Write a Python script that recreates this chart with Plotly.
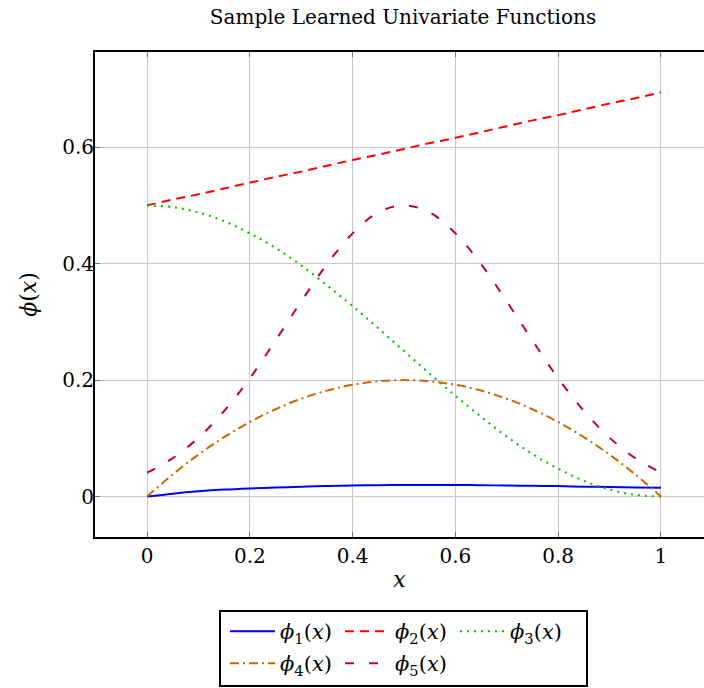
import plotly.graph_objects as go

x_vals = [0.00, 0.05, 0.10, 0.15, 0.20, 0.25, 0.30, 0.35, 0.40, 0.45, 0.50,
          0.55, 0.60, 0.65, 0.70, 0.75, 0.80, 0.85, 0.90, 0.95, 1.00]

phi1 = [0.000, 0.005, 0.009, 0.012, 0.014, 0.0155, 0.017, 0.018, 0.019, 0.0195, 0.020,
        0.020, 0.020, 0.0195, 0.019, 0.0185, 0.018, 0.017, 0.0165, 0.0155, 0.015]
phi2 = [0.500, 0.510, 0.519, 0.529, 0.539, 0.549, 0.558, 0.568, 0.578, 0.587, 0.597,
        0.607, 0.616, 0.626, 0.636, 0.646, 0.655, 0.665, 0.675, 0.684, 0.694]
phi3 = [0.500, 0.497, 0.488, 0.473, 0.452, 0.427, 0.397, 0.363, 0.327, 0.289, 0.250,
        0.211, 0.173, 0.137, 0.103, 0.073, 0.048, 0.027, 0.012, 0.003, 0.000]
phi4 = [0.000, 0.038, 0.072, 0.102, 0.128, 0.150, 0.168, 0.182, 0.192, 0.198, 0.200,
        0.198, 0.192, 0.182, 0.168, 0.150, 0.128, 0.102, 0.072, 0.038, 0.000]
phi5 = [0.041, 0.066, 0.101, 0.147, 0.203, 0.268, 0.335, 0.399, 0.452, 0.488, 0.500,
        0.488, 0.452, 0.399, 0.335, 0.268, 0.203, 0.147, 0.101, 0.066, 0.041]

names = ["<i>ϕ</i><sub>1</sub>(<i>x</i>)", "<i>ϕ</i><sub>2</sub>(<i>x</i>)",
         "<i>ϕ</i><sub>3</sub>(<i>x</i>)", "<i>ϕ</i><sub>4</sub>(<i>x</i>)",
         "<i>ϕ</i><sub>5</sub>(<i>x</i>)"]
series = [phi1, phi2, phi3, phi4, phi5]
colors = ["#0000ff", "#ff0000", "#00bf00", "#cc6600", "#bf0040"]
dashes = ["solid", "9px,6px", "2px,5px", "9px,4px,2px,4px", "9px,15px"]
legend_rows = ["legend", "legend", "legend", "legend2", "legend2"]

x_ticks = [0, 0.2, 0.4, 0.6, 0.8, 1.0]
x_ticklabels = ["0", "0.2", "0.4", "0.6", "0.8", "1"]
y_ticks = [0, 0.2, 0.4, 0.6]
y_ticklabels = ["0", "0.2", "0.4", "0.6"]

FONT = "DejaVu Serif"
PLOT_L, PLOT_W, PLOT_B, PLOT_H = 95, 609, 537, 485


def px_x(p):
    return (p - PLOT_L) / PLOT_W


def px_y(p):
    return -(p - PLOT_B) / PLOT_H


fig = go.Figure()
for name, ys, c, d, lg in zip(names, series, colors, dashes, legend_rows):
    fig.add_trace(go.Scatter(x=x_vals, y=ys, mode="lines", name=name, legend=lg,
                             line=dict(color=c, width=2, dash=d, shape="spline")))

legend_common = dict(orientation="h", xref="paper", yref="paper", x=px_x(225),
                     xanchor="left", yanchor="top", borderwidth=0,
                     bgcolor="rgba(0,0,0,0)", entrywidth=55, itemwidth=45,
                     font=dict(family=FONT, size=21))

fig.update_layout(
    width=704, height=688,
    margin=dict(l=95, r=0, t=52, b=151, autoexpand=False),
    paper_bgcolor="white", plot_bgcolor="white",
    font=dict(family=FONT, size=19, color="black"),
    title=dict(text="Sample Learned Univariate Functions", x=403 / 704, xanchor="center",
               xref="container", y=1 - 16.5 / 688, yanchor="middle",
               font=dict(family=FONT, size=20)),
    showlegend=True,
    legend=dict(y=px_y(611), **legend_common),
    legend2=dict(y=px_y(643), **legend_common),
)

# legend frame
fig.add_shape(type="rect", xref="paper", yref="paper",
              x0=px_x(220), x1=px_x(587), y0=px_y(686), y1=px_y(611),
              line=dict(color="black", width=2), fillcolor="rgba(0,0,0,0)", layer="above")

fig.update_xaxes(range=[-0.1012, 1.0837], tickvals=x_ticks, ticktext=x_ticklabels,
                 showgrid=True, gridcolor="#c8c8c8", gridwidth=1,
                 showline=True, linecolor="black", linewidth=2, mirror="ticks",
                 ticks="inside", ticklen=5, tickcolor="#707070",
                 zeroline=False, tickfont=dict(size=20),
                 title=dict(text="<i>x</i>", font=dict(size=22), standoff=5))
fig.update_yaxes(range=[-0.0694, 0.7634], tickvals=y_ticks, ticktext=y_ticklabels,
                 showgrid=True, gridcolor="#c8c8c8", gridwidth=1,
                 showline=True, linecolor="black", linewidth=2, mirror=False,
                 ticks="inside", ticklen=5, tickcolor="#707070",
                 zeroline=False, tickfont=dict(size=20), ticklabelstandoff=-5,
                 title=dict(text="<i>ϕ</i>(<i>x</i>)", font=dict(size=22), standoff=19))

fig.write_html("out.html",
               config={"displayModeBar": False},
               post_script="document.body.style.margin='0';"
                           "document.body.style.overflow='hidden';")
